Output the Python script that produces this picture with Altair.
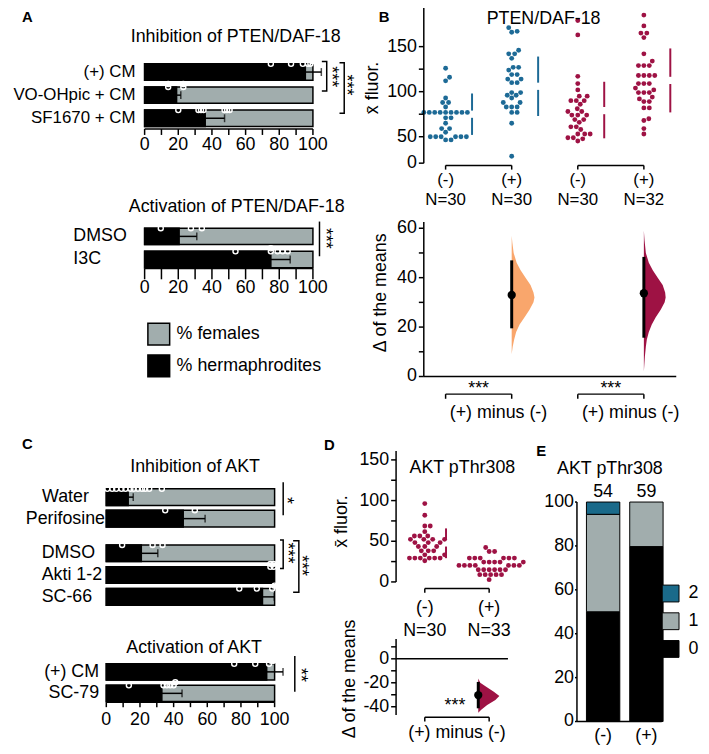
import altair as alt
import numpy as np
import pandas as pd

W, H = 700, 738
M = 8


def c(v):
    return v - M


FONT = "Liberation Sans"
GREY = "#A1ADAD"
BLUE = "#1D6A96"
RED = "#9E1244"
ORANGE = "#F9A66C"
TEAL = "#1A6A8A"
ONE = pd.DataFrame({"k": [0]})

# ---------------- data ----------------
pct_ticks = [0, 10, 20, 30, 40, 50, 60, 70, 80, 90, 100]
pct_labels = [0, 20, 40, 60, 80, 100]

a1_cats = ["(+) CM", "VO-OHpic + CM", "SF1670 + CM"]
a1_herm = [95.5, 19.0, 36.0]
a1_sd = [9.5, 2.5, 11.5]
a1_pts = [[75, 87, 94, 97, 98.5, 99.5, 100], [14, 14, 23, 23], [20, 32, 33.5, 35, 47.5, 49, 50.5]]

a2_cats = ["DMSO", "I3C"]
a2_herm = [20.5, 75.0]
a2_sd = [10.5, 11.5]
a2_pts = [[9.6, 27.5, 34], [54, 75, 75, 79, 82, 85]]

c1_cats = ["Water", "Perifosine"]
c1_herm = [13.0, 45.7]
c1_sd = [3.0, 13.0]
c1_pts = [[0.6, 3.5, 5.9, 9.0, 11.4, 14.3, 16.3, 18.8, 21.2, 23.1, 25.5, 33.0], [35.0, 52.6]]

c2_cats = ["DMSO", "Akti 1-2", "SC-66"]
c2_herm = [20.8, 99.3, 92.8]
c2_sd = [9.8, 0.0, 7.0]
c2_pts = [[9.4, 27.5, 33.4], [97.5, 97.5, 99.5, 99.5], [79.0, 89.4, 98.6, 100.0]]

c3_cats = ["(+) CM", "SC-79"]
c3_herm = [95.3, 33.0]
c3_sd = [9.7, 12.0]
c3_pts = [[76.0, 88.5, 96.7, 98.0, 99.2], [13.4, 34.0, 36.0, 38.0, 40.0, 41.0]]

# B: PTEN/DAF-18 fluorescence
b_groups = [1, 2, 3, 4]
b_signs = ["(-)", "(+)", "(-)", "(+)"]
b_n = ["N=30", "N=30", "N=30", "N=32"]
b_sets = ["set1", "set1", "set2", "set2"]
b_vals = [
    [126, 116, 112, 93, 88, 88, 83, 77, 77, 77, 77, 77, 77, 77, 77, 77, 71, 71, 65, 59, 59, 55,
     50, 50, 50, 50, 50, 50, 44, 44],
    [171, 167, 166, 146, 142, 142, 137, 127, 127, 124, 119, 119, 114, 114, 110, 110, 99, 99, 96, 96,
     93, 88, 88, 83, 83, 83, 77, 77, 65, 13],
    [179, 163, 117, 109, 102, 95, 95, 90, 90, 90, 86, 81, 78, 78, 74, 74, 74, 69, 69, 66, 61, 61,
     58, 53, 53, 53, 48, 48, 46, 42],
    [185, 173, 165, 165, 160, 142, 134, 129, 129, 129, 118, 118, 118, 118, 109, 109, 109, 104, 102,
     99, 99, 99, 94, 92, 89, 89, 82, 82, 70, 68, 59, 53],
]
b_mean = [75.0, 106.0, 79.0, 112.5]
b_sd = [23.0, 33.0, 32.0, 35.5]
b1_ticks = [0, 50, 75, 100, 125, 150]
b1_labels = [0, 50, 100, 150]

be_pos = [2, 4]
be_sets = ["e1", "e2"]
be_mean = [33.0, 33.7]
be_lo = [19.5, 15.7]
be_hi = [47.0, 48.4]
be_violin_v = [
    [57, 54, 50, 46, 43, 40, 37, 34, 32, 30, 27, 24, 21, 18, 15, 12, 9],
    [59, 55, 50, 46, 43, 40, 37, 34, 32, 30, 27, 24, 21, 18, 15, 12, 8, 5, 2],
]
be_violin_w = [
    [0, 0.7, 2, 5, 9, 14, 19, 22, 23, 22, 18, 13, 8, 4.5, 2.5, 1, 0],
    [0, 0.7, 2, 5, 9, 14, 19, 21.5, 22, 21, 17, 12, 8, 5, 3, 2, 1, 0.5, 0],
]
b2_ticks = [0, 10, 20, 30, 40, 50, 60]
b2_labels = [0, 20, 40, 60]

# D: AKT pThr308 fluorescence
d_groups = [1, 2]
d_signs = ["(-)", "(+)"]
d_n = ["N=30", "N=33"]
d_vals = [
    [96.3, 82.0, 68.7, 68.7, 61.8, 56.5, 56.5, 56.5, 52.4, 52.4, 52.4, 52.4, 48.4, 48.4, 48.4,
     43.5, 43.5, 43.5, 38.2, 38.2, 38.2, 33.3, 33.3, 29.3, 29.3, 29.3, 29.3, 29.3, 29.3, 26.0],
    [42.3, 37.4, 37.4, 29.3, 29.3, 29.3, 29.3, 29.3, 29.3, 24.4, 24.4, 24.4, 24.4, 24.4,
     20.3, 20.3, 20.3, 20.3, 20.3, 20.3, 20.3, 15.0, 15.0, 15.0, 15.0, 15.0, 15.0,
     8.9, 8.9, 8.9, 8.9, 8.9, 2.8],
]
d_mean_minus = 47.5
d_sd_minus = 18.3
d1_ticks = [0, 25, 50, 75, 100, 125, 150]
d1_labels = [0, 50, 100, 150]
de_mean = -30.3
de_lo = -41.3
de_hi = -19.3
de_violin_v = [-16.5, -20, -23.4, -27.5, -31, -34.4, -38.5, -42.6, -45]
de_violin_w = [0, 2, 8, 15.7, 21.3, 17.3, 9, 3, 0]
d2_ticks = [-40, -30, -20, -10, 0, 10]
d2_labels = [-40, -20, 0]

# E: AKT pThr308 scores
e_grps = ["(-)", "(+)"]
e_n = ["54", "59"]
e_levels = ["0", "1", "2"]
e_pct = [[50.0, 44.4, 5.6], [79.7, 20.3, 0.0]]
e_ticks = [0, 20, 40, 60, 80, 100]


# ---------------- helpers ----------------
def swarm(vals, ypix, diam=5.2):
    order = np.argsort(vals, kind="stable")
    placed = []
    out = [0.0] * len(vals)
    for i in order:
        y = ypix(vals[i])
        k = 0
        while True:
            cands = [0.0] if k == 0 else [k * 0.5, -k * 0.5]
            hit = None
            for s in cands:
                if all((s - px) ** 2 + (y - py) ** 2 >= diam ** 2 - 1e-9 for px, py in placed):
                    hit = s
                    break
            if hit is not None:
                out[i] = hit
                placed.append((hit, y))
                break
            k += 1
    return out


def txt(s, x, y, size=18, weight="normal", angle=0):
    return alt.Chart(ONE).mark_text(
        text=s, font=FONT, fontSize=size, fontWeight=weight, align="center",
        baseline="middle", color="black", angle=angle
    ).encode(x=alt.value(c(x)), y=alt.value(c(y)))


def hax(xs, dom, ticks, labels, y, ts, label_y):
    """Bottom axis drawn through the panel's x scale."""
    return [
        alt.Chart(pd.DataFrame({"a": [dom[0]], "b": [dom[1]]})).mark_rule(
            color="black", strokeWidth=1.5).encode(
            x=alt.X("a:Q", scale=xs, axis=None), x2="b:Q", y=alt.value(c(y))),
        alt.Chart(pd.DataFrame({"t": ticks})).mark_rule(color="black", strokeWidth=1.5).encode(
            x=alt.X("t:Q", scale=xs, axis=None), y=alt.value(c(y)), y2=alt.value(c(y + ts))),
        alt.Chart(pd.DataFrame({"t": labels, "s": [str(v) for v in labels]})).mark_text(
            fontSize=18, font=FONT, color="black", baseline="middle", align="center").encode(
            x=alt.X("t:Q", scale=xs, axis=None), y=alt.value(c(label_y)), text="s:N"),
    ]


def vax(ys, dom, ticks, labels, x, ts=5, pad=2):
    """Left axis drawn through the panel's y scale."""
    return [
        alt.Chart(pd.DataFrame({"a": [dom[0]], "b": [dom[1]]})).mark_rule(
            color="black", strokeWidth=1.5).encode(
            y=alt.Y("a:Q", scale=ys, axis=None), y2="b:Q", x=alt.value(c(x))),
        alt.Chart(pd.DataFrame({"t": ticks})).mark_rule(color="black", strokeWidth=1.5).encode(
            y=alt.Y("t:Q", scale=ys, axis=None), x=alt.value(c(x - ts)), x2=alt.value(c(x))),
        alt.Chart(pd.DataFrame({"t": labels, "s": [str(v) for v in labels]})).mark_text(
            fontSize=18, font=FONT, color="black", baseline="middle", align="right").encode(
            y=alt.Y("t:Q", scale=ys, axis=None), x=alt.value(c(x - ts - pad)), text="s:N"),
    ]


def bar_panel(cats, herm, sd, pts, xr, yr, pi, po, ylab, xax, brackets, stars, legend=None):
    xs = alt.Scale(domain=[0, 100], range=[c(xr[0]), c(xr[1])], nice=False, zero=False)
    ys = alt.Scale(domain=cats, range=[c(yr[0]), c(yr[1])], paddingInner=pi, paddingOuter=po)
    cs = alt.Scale(domain=["% females", "% hermaphrodites"], range=[GREY, "black"])
    df = pd.DataFrame({"cat": cats, "zero": 0.0, "full": 100.0, "herm": herm,
                       "err": [h + s for h, s in zip(herm, sd)], "sd": sd,
                       "f": "% females", "h": "% hermaphrodites"})

    def X(f):
        return alt.X(f, scale=xs, axis=None, title=None)

    def Y():
        return alt.Y("cat:N", scale=ys, axis=None, title=None)

    L = [
        alt.Chart(df).mark_bar(stroke="black", strokeWidth=1.5).encode(
            x=X("zero:Q"), x2="full:Q", y=Y(),
            color=alt.Color("f:N", scale=cs, legend=legend)),
        alt.Chart(df).mark_bar(stroke="black", strokeWidth=1.5).encode(
            x=X("zero:Q"), x2="herm:Q", y=Y(),
            color=alt.Color("h:N", scale=cs, legend=legend)),
    ]
    dfe = df[df["sd"] > 0]
    L.append(alt.Chart(dfe).mark_rule(color="black", strokeWidth=1.5).encode(
        x=X("herm:Q"), x2="err:Q", y=Y()))
    L.append(alt.Chart(dfe).mark_tick(color="black", size=8, thickness=1.5).encode(
        x=X("err:Q"), y=Y()))
    rows = []
    for cat, vals in zip(cats, pts):
        seen = []
        for v in vals:
            k = sum(1 for s in seen if abs(s - v) < 1.5)
            rows.append({"cat": cat, "v": v, "yo": [0, -3, 3, -6, 6][k % 5]})
            seen.append(v)
    L.append(alt.Chart(pd.DataFrame(rows)).mark_point(
        shape="circle", filled=False, color="white", size=26, strokeWidth=1.4, opacity=1
    ).encode(x=X("v:Q"), y=Y(), yOffset=alt.YOffset("yo:Q", scale=None)))
    brow = []
    for i, (c1, c2, xv, t, o1, o2) in enumerate(brackets):
        seq = [(xv, c1, o1), (xv, c2, o2)]
        if t > 0:
            seq = [(xv - t, c1, o1)] + seq + [(xv - t, c2, o2)]
        for j, (xx, cc, oo) in enumerate(seq):
            brow.append({"b": i, "o": j, "x": xx, "cat": cc, "yo": oo})
    L.append(alt.Chart(pd.DataFrame(brow)).mark_line(color="black", strokeWidth=1.5).encode(
        x=X("x:Q"), y=Y(), yOffset=alt.YOffset("yo:Q", scale=None),
        order="o:Q", detail="b:N"))
    srow = [{"s": s, "x": xv, "cat": cc, "yo": yo} for s, xv, cc, yo in stars]
    L.append(alt.Chart(pd.DataFrame(srow)).mark_text(
        angle=90, fontSize=18, font=FONT, color="black", baseline="middle", align="center"
    ).encode(x=X("x:Q"), y=Y(), yOffset=alt.YOffset("yo:Q", scale=None), text="s:N"))
    # category labels (y axis)
    lx, lalign, lsize = ylab
    L.append(alt.Chart(pd.DataFrame({"cat": cats})).mark_text(
        fontSize=lsize, font=FONT, color="black", baseline="middle", align=lalign
    ).encode(y=Y(), x=alt.value(c(lx)), text="cat:N"))
    if xax is not None:
        L += hax(xs, [0, 100], pct_ticks, pct_labels, *xax)
    return alt.layer(*L)


# ---------------- panel A ----------------
legA = alt.Legend(orient="none", legendX=c(148.3), legendY=c(321.7), title=None,
                  symbolType="square", symbolSize=484, symbolStrokeColor="black",
                  symbolStrokeWidth=1.5, labelFontSize=18, labelOffset=6, rowPadding=4,
                  padding=0)

A1 = bar_panel(a1_cats, a1_herm, a1_sd, a1_pts, (146, 316), (57.3, 127.3), 0.29, 0.145,
               (136.7, "right", 17), (126.5, 6, 143),
               [("(+) CM", "VO-OHpic + CM", 108.2, 2.9, -2.3, 4),
                ("(+) CM", "SF1670 + CM", 118.6, 2.8, -1, 3.3)],
               [("***", 110.6, "(+) CM", 13), ("***", 119.4, "VO-OHpic + CM", -2)])
A2 = bar_panel(a2_cats, a2_herm, a2_sd, a2_pts, (146, 316), (223.3, 270), 0.29, 0.145,
               (74, "left", 18), (267.3, 11, 286.7),
               [("DMSO", "I3C", 103.9, 0, -6.7, 5)],
               [("***", 106.9, "DMSO", 10.3)], legend=legA)

# ---------------- panel C ----------------
C1 = bar_panel(c1_cats, c1_herm, c1_sd, c1_pts, (107.3, 277.3), (487.5, 530.9), 0.23, 0.115,
               (66, "center", 18), None,
               [("Water", "Perifosine", 105.1, 0, -6.6, 5)],
               [("*", 106.9, "Water", 11.7)])
C2 = bar_panel(c2_cats, c2_herm, c2_sd, c2_pts, (107.3, 277.3), (544.1, 610.1), 0.24, 0.12,
               (42, "left", 18), None,
               [("DMSO", "Akti 1-2", 105.1, 1.9, -5, 1.6),
                ("DMSO", "SC-66", 114.4, 3.4, -4.3, 3.7)],
               [("***", 107.1, "DMSO", 8), ("***", 115.7, "Akti 1-2", -1.2)])
C3 = bar_panel(c3_cats, c3_herm, c3_sd, c3_pts, (107.3, 277.3), (664, 707.4), 0.25, 0.125,
               (100, "right", 18), (705.5, 5, 723.3),
               [("(+) CM", "SC-79", 112, 0, -8, 6.6)],
               [("**", 114.9, "(+) CM", 11.3)])

# ---------------- panel B ----------------
B_DOM = [0.67, 4.49]
bxs = alt.Scale(domain=B_DOM, range=[c(428), c(683)], nice=False, zero=False)
BPX = (683 - 428) / (B_DOM[1] - B_DOM[0])
b1_ydom = [0, 50, 150, 195]
b1_yref = [161.0, 134.3, 43.3, 2.3]
b1ys = alt.Scale(type="linear", domain=b1_ydom, range=[c(v) for v in b1_yref], nice=False, zero=False)
setscale = alt.Scale(domain=["set1", "set2"], range=[BLUE, RED])

brows = []
for g, s, vals in zip(b_groups, b_sets, b_vals):
    offs = swarm(vals, lambda v: float(np.interp(v, b1_ydom, b1_yref)))
    for v, o in zip(vals, offs):
        brows.append({"g": g, "set": s, "v": v, "x": g + o / BPX})
bdf = pd.DataFrame(brows)

GAP = 4
mldf = pd.DataFrame({"set": b_sets, "xl": [g + 0.4 for g in b_groups],
                     "a": [m - s for m, s in zip(b_mean, b_sd)], "b": [m - GAP for m in b_mean],
                     "c2": [m + GAP for m in b_mean], "d": [m + s for m, s in zip(b_mean, b_sd)]})
bl = pd.DataFrame({"g": b_groups, "sign": b_signs, "n": b_n})
bbr = pd.DataFrame({"g1": [1, 3], "g2": [2, 4], "mid": [1.5, 3.5], "s": ["***", "***"],
                    "lab": ["(+) minus (-)", "(+) minus (-)"]})

BX = lambda f: alt.X(f, scale=bxs, axis=None, title=None)
B1 = alt.layer(
    alt.Chart(bdf).mark_circle(size=24, opacity=1).encode(
        x=BX("x:Q"), y=alt.Y("v:Q", scale=b1ys, axis=None, title=None),
        color=alt.Color("set:N", scale=setscale, legend=None)),
    alt.Chart(mldf).mark_rule(strokeWidth=2).encode(
        x=BX("xl:Q"), y=alt.Y("a:Q", scale=b1ys, axis=None), y2="b:Q",
        color=alt.Color("set:N", scale=setscale, legend=None)),
    alt.Chart(mldf).mark_rule(strokeWidth=2).encode(
        x=BX("xl:Q"), y=alt.Y("c2:Q", scale=b1ys, axis=None), y2="d:Q",
        color=alt.Color("set:N", scale=setscale, legend=None)),
    alt.Chart(bl).mark_text(fontSize=17, font=FONT, color="black").encode(
        x=BX("g:Q"), y=alt.value(c(178.5)), text="sign:N"),
    alt.Chart(bl).mark_text(fontSize=17, font=FONT, color="black").encode(
        x=BX("g:Q"), y=alt.value(c(198)), text="n:N"),
    alt.Chart(bbr).mark_rule(color="black", strokeWidth=1.5).encode(
        x=BX("g1:Q"), x2="g2:Q", y=alt.value(c(163.3))),
    alt.Chart(bl).mark_rule(color="black", strokeWidth=1.5).encode(
        x=BX("g:Q"), y=alt.value(c(163.3)), y2=alt.value(c(167.5))),
    *vax(b1ys, [0, 195], b1_ticks, b1_labels, 428),
    txt("x\u0304 fluor.", 377, 85, angle=270),
)

b2ys = alt.Scale(domain=[0, 62.5], range=[c(376.5), c(220.5)], nice=False, zero=False)
violscale = alt.Scale(domain=["e1", "e2"], range=[ORANGE, RED])
vrows = []
for pos, s, vs, ws in zip(be_pos, be_sets, be_violin_v, be_violin_w):
    for v, w in zip(vs, ws):
        vrows.append({"g": pos, "set": s, "v": v, "xr": pos + w / BPX})
cidf = pd.DataFrame({"g": be_pos, "lo": be_lo, "hi": be_hi, "m": be_mean})
bline = pd.DataFrame({"a": [B_DOM[0]], "b": [B_DOM[1]], "z": [0.0]})
B2 = alt.layer(
    alt.Chart(pd.DataFrame(vrows)).mark_area(orient="horizontal", opacity=1).encode(
        y=alt.Y("v:Q", scale=b2ys, axis=None, title=None),
        x=alt.X("xr:Q", scale=bxs, axis=None, title=None, stack=None), x2="g:Q",
        color=alt.Color("set:N", scale=violscale, legend=None)),
    alt.Chart(cidf).mark_rule(color="black", strokeWidth=3).encode(
        x=BX("g:Q"), y=alt.Y("lo:Q", scale=b2ys, axis=None), y2="hi:Q"),
    alt.Chart(cidf).mark_circle(color="black", size=70, opacity=1).encode(
        x=BX("g:Q"), y=alt.Y("m:Q", scale=b2ys, axis=None)),
    alt.Chart(bline).mark_rule(color="black", strokeWidth=1.5).encode(
        x=BX("a:Q"), x2="b:Q", y=alt.Y("z:Q", scale=b2ys, axis=None)),
    alt.Chart(bbr).mark_text(fontSize=18, font=FONT, color="black").encode(
        x=BX("mid:Q"), y=alt.value(c(389)), text="s:N"),
    alt.Chart(bbr).mark_rule(color="black", strokeWidth=1.5).encode(
        x=BX("g1:Q"), x2="g2:Q", y=alt.value(c(394.3))),
    alt.Chart(bl).mark_rule(color="black", strokeWidth=1.5).encode(
        x=BX("g:Q"), y=alt.value(c(394.3)), y2=alt.value(c(399))),
    alt.Chart(bbr).mark_text(fontSize=18, font=FONT, color="black", dx=20).encode(
        x=BX("mid:Q"), y=alt.value(c(413)), text="lab:N"),
    *vax(b2ys, [0, 62.5], b2_ticks, b2_labels, 428),
    txt("\u0394 of the means", 385, 292, angle=270),
)

# ---------------- panel D ----------------
D_DOM = [0.554, 2.292]
dxs = alt.Scale(domain=D_DOM, range=[c(400), c(513)], nice=False, zero=False)
DPX = (513 - 400) / (D_DOM[1] - D_DOM[0])
d1ys = alt.Scale(domain=[0, 161], range=[c(584), c(451.7)], nice=False, zero=False)
D1PX = (584 - 451.7) / 161
drows = []
for g, vals in zip(d_groups, d_vals):
    offs = swarm(vals, lambda v: 584 - v * D1PX)
    for v, o in zip(vals, offs):
        drows.append({"g": g, "v": v, "x": g + o / DPX})
DX = lambda f: alt.X(f, scale=dxs, axis=None, title=None)
dml = pd.DataFrame({"xl": [1.33], "a": [d_mean_minus - d_sd_minus], "b": [d_mean_minus - GAP],
                    "c2": [d_mean_minus + GAP], "d": [d_mean_minus + d_sd_minus]})
dl = pd.DataFrame({"g": d_groups, "sign": d_signs, "n": d_n})
dbr = pd.DataFrame({"g1": [1], "g2": [2], "mid": [1.5], "s": ["***"], "lab": ["(+) minus (-)"],
                    "x0": [D_DOM[0]], "x1": [D_DOM[1]], "zero": [0.0]})
D1 = alt.layer(
    alt.Chart(pd.DataFrame(drows)).mark_circle(size=24, opacity=1, color=RED).encode(
        x=DX("x:Q"), y=alt.Y("v:Q", scale=d1ys, axis=None, title=None)),
    alt.Chart(dml).mark_rule(strokeWidth=2, color=RED).encode(
        x=DX("xl:Q"), y=alt.Y("a:Q", scale=d1ys, axis=None), y2="b:Q"),
    alt.Chart(dml).mark_rule(strokeWidth=2, color=RED).encode(
        x=DX("xl:Q"), y=alt.Y("c2:Q", scale=d1ys, axis=None), y2="d:Q"),
    alt.Chart(dl).mark_text(fontSize=18, font=FONT, color="black").encode(
        x=DX("g:Q"), y=alt.value(c(610)), text="sign:N"),
    alt.Chart(dl).mark_text(fontSize=18, font=FONT, color="black").encode(
        x=DX("g:Q"), y=alt.value(c(633.3)), text="n:N"),
    alt.Chart(dbr).mark_rule(color="black", strokeWidth=1.5).encode(
        x=DX("g1:Q"), x2="g2:Q", y=alt.value(c(590.7))),
    alt.Chart(dl).mark_rule(color="black", strokeWidth=1.5).encode(
        x=DX("g:Q"), y=alt.value(c(590.7)), y2=alt.value(c(595))),
    *vax(d1ys, [0, 161], d1_ticks, d1_labels, 400),
    txt("x\u0304 fluor.", 345, 523, angle=270),
)

d2ys = alt.Scale(domain=[-46.8, 16.5], range=[c(718.3), c(641.7)], nice=False, zero=False)
dvdf = pd.DataFrame({"g": 2, "v": de_violin_v, "xr": [2 + w / DPX for w in de_violin_w]})
dci = pd.DataFrame({"g": [2], "lo": [de_lo], "hi": [de_hi], "m": [de_mean]})
D2 = alt.layer(
    alt.Chart(dbr).mark_rule(color="black", strokeWidth=1.5).encode(
        x=DX("x0:Q"), x2="x1:Q", y=alt.Y("zero:Q", scale=d2ys, axis=None, title=None)),
    alt.Chart(dvdf).mark_area(orient="horizontal", opacity=1, color=RED, xOffset=-11, x2Offset=-11).encode(
        y=alt.Y("v:Q", scale=d2ys, axis=None),
        x=alt.X("xr:Q", scale=dxs, axis=None, title=None, stack=None), x2="g:Q"),
    alt.Chart(dci).mark_rule(color="black", strokeWidth=3, xOffset=-11).encode(
        x=DX("g:Q"), y=alt.Y("lo:Q", scale=d2ys, axis=None), y2="hi:Q"),
    alt.Chart(dci).mark_circle(color="black", size=70, opacity=1, xOffset=-11).encode(
        x=DX("g:Q"), y=alt.Y("m:Q", scale=d2ys, axis=None)),
    alt.Chart(dbr).mark_text(fontSize=18, font=FONT, color="black", dx=-2).encode(
        x=DX("mid:Q"), y=alt.value(c(709)), text="s:N"),
    alt.Chart(dbr).mark_rule(color="black", strokeWidth=1.5).encode(
        x=DX("g1:Q"), x2="g2:Q", y=alt.value(c(720.7))),
    alt.Chart(dl).mark_rule(color="black", strokeWidth=1.5).encode(
        x=DX("g:Q"), y=alt.value(c(720.7)), y2=alt.value(c(725))),
    alt.Chart(dbr).mark_text(fontSize=18, font=FONT, color="black").encode(
        x=DX("mid:Q"), y=alt.value(c(736.7)), text="lab:N"),
    *vax(d2ys, [-46.8, 16.5], d2_ticks, d2_labels, 400),
    txt("\u0394 of the means", 353, 682, angle=270),
)

# ---------------- panel E ----------------
exs = alt.Scale(domain=e_grps, range=[c(582.7), c(670)], paddingInner=0.229,
                paddingOuter=0.113, align=0.97)
eys = alt.Scale(domain=[0, 100], range=[c(725), c(503.3)], nice=False, zero=False)
ecs = alt.Scale(domain=["2", "1", "0"], range=[TEAL, GREY, "black"])
legE = alt.Legend(orient="none", legendX=c(668.3), legendY=c(586.7), title=None,
                  symbolType="square", symbolSize=289, symbolStrokeColor="black",
                  symbolStrokeWidth=1, labelFontSize=18, labelOffset=9, rowPadding=6,
                  padding=0)
erows = []
for g, pcts in zip(e_grps, e_pct):
    for lv, p in zip(e_levels, pcts):
        if p > 0:
            erows.append({"grp": g, "level": lv, "lv": int(lv), "pct": p})
etop = pd.DataFrame({"grp": e_grps, "n": e_n, "top": [sum(p) for p in e_pct], "z": 0.0})
EX = lambda f: alt.X(f, scale=exs, axis=None, title=None)
E = alt.layer(
    alt.Chart(pd.DataFrame(erows)).mark_bar(stroke="black", strokeWidth=1).encode(
        x=EX("grp:N"),
        y=alt.Y("pct:Q", scale=eys, stack="zero", title=None, axis=None),
        color=alt.Color("level:N", scale=ecs, legend=legE),
        order=alt.Order("lv:Q", sort="ascending")),
    alt.Chart(etop).mark_text(fontSize=18, font=FONT, color="black", baseline="bottom", dy=-1).encode(
        x=EX("grp:N"), y=alt.Y("top:Q", scale=eys, axis=None, title=None), text="n:N"),
    alt.Chart(etop).mark_text(fontSize=18, font=FONT, color="black", baseline="middle").encode(
        x=EX("grp:N"), y=alt.value(c(740)), text="grp:N"),
    alt.Chart(ONE).mark_rule(color="black", strokeWidth=1.5).encode(
        x=alt.value(c(582.7)), x2=alt.value(c(668.3)), y=alt.value(c(725))),
    *vax(eys, [0, 100], e_ticks, e_ticks, 582.7, ts=2, pad=1),
)

# ---------------- annotations ----------------
annots = [
    txt("A", 27.5, 13.5, 15, "bold"),
    txt("Inhibition of PTEN/DAF-18", 238, 33.3),
    txt("Activation of PTEN/DAF-18", 239, 205),
    txt("B", 388, 13.5, 15, "bold"),
    txt("PTEN/DAF-18", 549, 15),
    txt("C", 27.5, 445, 15, "bold"),
    txt("Inhibition of AKT", 197, 468.3),
    txt("Activation of AKT", 196, 650.7),
    txt("D", 332.5, 445.3, 15, "bold"),
    txt("AKT pThr308", 467, 469.3),
    txt("E", 546.7, 452, 15, "bold"),
    txt("AKT pThr308", 616, 470),
]

chart = alt.layer(A1, A2, C1, C2, C3, B1, B2, D1, D2, E, *annots).resolve_scale(
    x="independent", y="independent", color="independent"
).properties(
    width=W, height=H, padding=0, autosize=alt.AutoSizeParams(type="none"), background="white"
).configure_view(stroke=None).configure_legend(
    labelFont=FONT, labelFontSize=18, labelColor="black"
).configure_text(font=FONT)

chart.save("out.html", embed_options={"renderer": "svg", "actions": False})
